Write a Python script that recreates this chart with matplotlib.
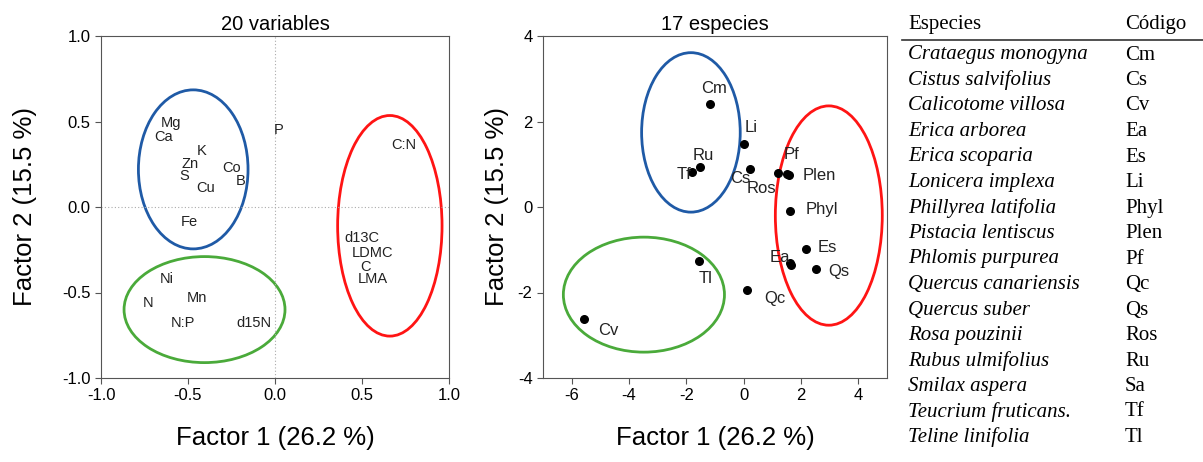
import matplotlib.pyplot as plt
from matplotlib.patches import Ellipse

plt.rcParams['font.family'] = ['Liberation Sans', 'DejaVu Sans']
plt.rcParams['axes.unicode_minus'] = False

# left panel: variable loadings
var_names = ['Mg', 'Ca', 'P', 'C:N', 'K', 'Zn', 'Co', 'B', 'S', 'Cu', 'Fe',
             'd13C', 'LDMC', 'C', 'LMA', 'Ni', 'N', 'Mn', 'N:P', 'd15N']
var_x = [-0.60, -0.64, 0.02, 0.74, -0.42, -0.49, -0.25, -0.20, -0.52, -0.40, -0.49,
         0.50, 0.56, 0.52, 0.56, -0.62, -0.73, -0.45, -0.53, -0.12]
var_y = [0.49, 0.41, 0.45, 0.36, 0.33, 0.25, 0.23, 0.15, 0.18, 0.11, -0.09,
         -0.18, -0.27, -0.35, -0.42, -0.42, -0.56, -0.53, -0.68, -0.68]

# right panel: species scores
sp_codes = ['Cm', 'Li', 'Ru', 'Tf', 'Cs', 'Ros', 'Pf', 'Plen', 'Phyl', 'Es',
            'Ea', 'Sa', 'Qs', 'Tl', 'Qc', 'Cv']
sp_x = [-1.19, 0.02, -1.51, -1.80, 0.23, 1.19, 1.52, 1.58, 1.63, 2.16,
        1.61, 1.66, 2.51, -1.56, 0.12, -5.56]
sp_y = [2.42, 1.48, 0.94, 0.82, 0.90, 0.80, 0.77, 0.74, -0.10, -0.98,
        -1.31, -1.36, -1.44, -1.26, -1.95, -2.63]
# label offsets (points)
sp_off = {'Cm': (3, 11), 'Li': (5, 12), 'Ru': (2, 8), 'Tf': (-6, -2), 'Cs': (-7, -7),
          'Ros': (-12, -11), 'Pf': (3, 14), 'Plen': (22, 0), 'Phyl': (23, 1),
          'Es': (16, 1), 'Ea': (-7, 4), 'Sa': None, 'Qs': (17, -2), 'Tl': (5, -13),
          'Qc': (20, -6), 'Cv': (17, -8)}

# table
species = ['Crataegus monogyna', 'Cistus salvifolius', 'Calicotome villosa',
           'Erica arborea', 'Erica scoparia', 'Lonicera implexa', 'Phillyrea latifolia',
           'Pistacia lentiscus', 'Phlomis purpurea', 'Quercus canariensis',
           'Quercus suber', 'Rosa pouzinii', 'Rubus ulmifolius', 'Smilax aspera',
           'Teucrium fruticans.', 'Teline linifolia']
codes = ['Cm', 'Cs', 'Cv', 'Ea', 'Es', 'Li', 'Phyl', 'Plen', 'Pf', 'Qc', 'Qs',
         'Ros', 'Ru', 'Sa', 'Tf', 'Tl']

blue = '#1f5aa6'
green = '#4aaa3a'
red = '#ff1414'

fig = plt.figure(figsize=(12.03, 4.62), dpi=100)
W, H = 1203, 462
ax1 = fig.add_axes([101 / W, 84 / H, 348 / W, 342 / H])
ax2 = fig.add_axes([543 / W, 84 / H, 344 / W, 342 / H])

for ax, ypad in ((ax1, 18), (ax2, 6)):
    for s in ax.spines.values():
        s.set_color('#555555')
        s.set_linewidth(0.8)
    ax.tick_params(direction='out', length=4, width=0.8, color='#555555',
                   labelsize=12)
    ax.set_xlabel('Factor 1 (26.2 %)', fontsize=18.5, labelpad=16)
    ax.set_ylabel('Factor 2 (15.5 %)', fontsize=18.5, labelpad=ypad)

# left
ax1.set_xlim(-1, 1)
ax1.set_ylim(-1, 1)
ax1.set_xticks([-1.0, -0.5, 0.0, 0.5, 1.0])
ax1.set_yticks([-1.0, -0.5, 0.0, 0.5, 1.0])
ax1.xaxis.set_major_formatter('{x:.1f}')
ax1.yaxis.set_major_formatter('{x:.1f}')
ax1.axhline(0, color='#aaaaaa', lw=0.8, ls=(0, (1, 2)))
ax1.axvline(0, color='#aaaaaa', lw=0.8, ls=(0, (1, 2)))
for n, x, y in zip(var_names, var_x, var_y):
    ax1.text(x, y, n, ha='center', va='center', fontsize=10.5, color='#222222')
ax1.add_patch(Ellipse((-0.47, 0.22), 0.63, 0.93, fill=False, ec=blue, lw=2))
ax1.add_patch(Ellipse((-0.405, -0.60), 0.925, 0.62, fill=False, ec=green, lw=2))
ax1.add_patch(Ellipse((0.66, -0.11), 0.60, 1.29, fill=False, ec=red, lw=2))
ax1.set_title('20 variables', fontsize=14.5, pad=4)

# right
ax2.set_xlim(-7, 5)
ax2.set_ylim(-4, 4)
ax2.set_xticks([-6, -4, -2, 0, 2, 4])
ax2.set_yticks([-4, -2, 0, 2, 4])
ax2.scatter(sp_x, sp_y, s=30, color='black', zorder=3)
for c, x, y in zip(sp_codes, sp_x, sp_y):
    off = sp_off[c]
    if off is None:
        continue
    ax2.annotate(c, (x, y), xytext=off, textcoords='offset points',
                 ha='center', va='center', fontsize=12, color='#222222')
ax2.add_patch(Ellipse((-1.84, 1.745), 3.44, 3.73, fill=False, ec=blue, lw=2))
ax2.add_patch(Ellipse((-3.48, -2.05), 5.62, 2.69, fill=False, ec=green, lw=2))
ax2.add_patch(Ellipse((2.97, -0.20), 3.73, 5.13, fill=False, ec=red, lw=2))
ax2.set_title('17 especies', fontsize=14.5, pad=4)

# species table
tfont = ['Liberation Serif', 'DejaVu Serif']
x_sp, x_cd = 908 / W, 1125 / W
fig.text(x_sp, 1 - 25 / H, 'Especies', family=tfont, fontsize=15, va='center')
fig.text(x_cd, 1 - 25 / H, 'Código', family=tfont, fontsize=15, va='center')
fig.add_artist(plt.Line2D([902 / W, 1.0], [1 - 40 / H, 1 - 40 / H],
                          color='#333333', lw=1.2))
for i, (sp, cd) in enumerate(zip(species, codes)):
    yy = 1 - (55 + i * 25.5) / H
    fig.text(x_sp, yy, sp, family=tfont, style='italic', fontsize=15, va='center')
    fig.text(x_cd, yy, cd, family=tfont, fontsize=15, va='center')

fig.savefig('out.png', dpi=100)
